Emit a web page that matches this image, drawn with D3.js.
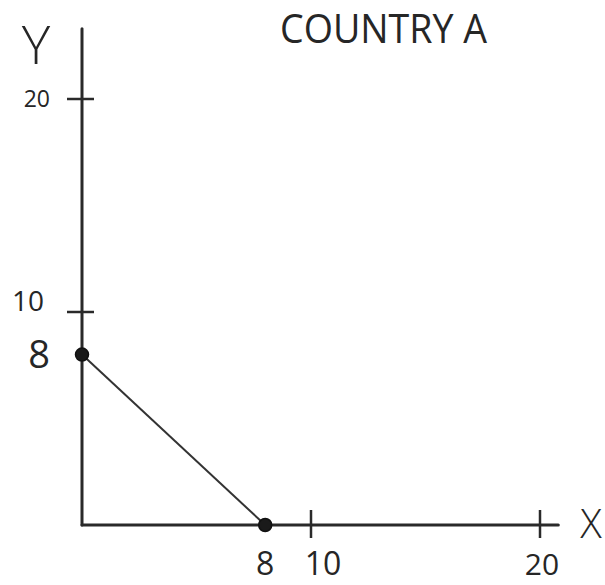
<!DOCTYPE html>
<html>
<head>
<meta charset="utf-8">
<script src="https://cdn.jsdelivr.net/npm/d3@7"></script>
<style>
  body { margin: 0; background: #fff; }
  svg { display: block; }
  text { font-family: 'Open Sans', 'DejaVu Sans', sans-serif; fill: #262626; }
</style>
</head>
<body>
<div id="chart"></div>
<script>
// chart data
const title = 'COUNTRY A'
const xLabel = 'X'
const yLabel = 'Y'
const xTicks = [10, 20]
const yTicks = [10, 20]
const xTickLabels = ['8', '10', '20']
const xTickLabelValues = [8, 10, 20]
const yTickLabels = ['8', '10', '20']
const yTickLabelValues = [8, 10, 20]
// production possibility frontier end points
const ppfX = [0, 8]
const ppfY = [8, 0]

const width = 605
const height = 585

const svg = d3
  .select('#chart')
  .append('svg')
  .attr('width', width)
  .attr('height', height)

const x = d3.scaleLinear().domain([0, 20]).range([82, 540])
const y = d3.scaleLinear().domain([0, 20]).range([525, 99])

const ink = '#2a2a2a'

// axes, a bit past the last tick like the sketch
svg.append('line')
  .attr('x1', x(0)).attr('y1', y(0))
  .attr('x2', x(0)).attr('y2', y(23.3))
  .attr('stroke', ink).attr('stroke-width', 3).attr('stroke-linecap', 'round')

svg.append('line')
  .attr('x1', x(0)).attr('y1', y(0))
  .attr('x2', x(20.8)).attr('y2', y(0))
  .attr('stroke', ink).attr('stroke-width', 3).attr('stroke-linecap', 'round')

// tick marks
svg.append('g')
  .selectAll('line')
  .data(xTicks)
  .enter()
  .append('line')
  .attr('x1', (d) => x(d)).attr('x2', (d) => x(d))
  .attr('y1', y(0) - 15).attr('y2', y(0) + 13)
  .attr('stroke', ink).attr('stroke-width', 2.5)

svg.append('g')
  .selectAll('line')
  .data(yTicks)
  .enter()
  .append('line')
  .attr('x1', x(0) - 15).attr('x2', x(0) + 12)
  .attr('y1', (d) => y(d)).attr('y2', (d) => y(d))
  .attr('stroke', ink).attr('stroke-width', 2.5)

// tick labels
const xSize = { '8': 32, '10': 32, '20': 30 }
const xShift = { '8': 0, '10': 12, '20': 2 }
svg.append('g')
  .selectAll('text')
  .data(xTickLabels)
  .enter()
  .append('text')
  .attr('x', (d, i) => x(xTickLabelValues[i]) + xShift[d])
  .attr('y', 575)
  .attr('text-anchor', 'middle')
  .style('font-size', (d) => xSize[d] + 'px')
  .text((d) => d)

const ySize = { '8': 38, '10': 28, '20': 23 }
const yShift = { '8': 13, '10': -1, '20': 8 }
const yRight = { '8': 50, '10': 44, '20': 50 }
svg.append('g')
  .selectAll('text')
  .data(yTickLabels)
  .enter()
  .append('text')
  .attr('x', (d) => yRight[d])
  .attr('y', (d, i) => y(yTickLabelValues[i]) + yShift[d])
  .attr('text-anchor', 'end')
  .style('font-size', (d) => ySize[d] + 'px')
  .text((d) => d)

// frontier line and its end points
const pts = ppfX.map((v, i) => [v, ppfY[i]])
svg.append('path')
  .attr('d', d3.line().x((d) => x(d[0])).y((d) => y(d[1]))(pts))
  .attr('fill', 'none')
  .attr('stroke', '#333')
  .attr('stroke-width', 2)

svg.append('g')
  .selectAll('circle')
  .data(pts)
  .enter()
  .append('circle')
  .attr('cx', (d) => x(d[0]))
  .attr('cy', (d) => y(d[1]))
  .attr('r', 6.5)
  .attr('fill', '#1a1a1a')
  .attr('stroke', '#111')
  .attr('stroke-width', 1.5)

// axis names and title
svg.append('text')
  .attr('x', 36).attr('y', 64)
  .attr('text-anchor', 'middle')
  .style('font-size', '54px')
  .style('font-weight', 300)
  .text(yLabel)

svg.append('text')
  .attr('x', 591).attr('y', 538)
  .attr('text-anchor', 'middle')
  .style('font-size', '40px')
  .style('font-weight', 300)
  .text(xLabel)

svg.append('text')
  .attr('x', 280).attr('y', 43)
  .attr('textLength', 207)
  .attr('lengthAdjust', 'spacingAndGlyphs')
  .style('font-size', '40px')
  .text(title)
</script>
</body>
</html>
